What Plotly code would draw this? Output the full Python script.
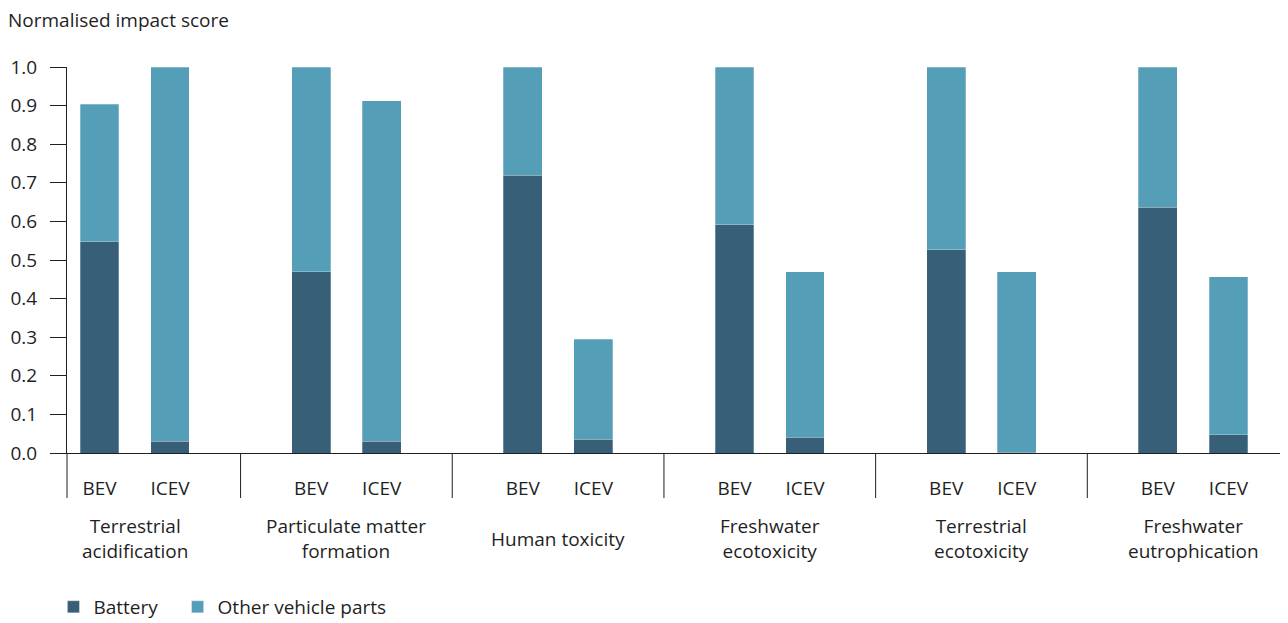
import plotly.graph_objects as go

# Normalised impact scores
groups = [
    "Terrestrial<br>acidification",
    "Particulate matter<br>formation",
    "Human toxicity",
    "Freshwater<br>ecotoxicity",
    "Terrestrial<br>ecotoxicity",
    "Freshwater<br>eutrophication",
]
vehicles = ["BEV", "ICEV"]

battery_bev = [0.547, 0.469, 0.720, 0.591, 0.526, 0.637]
other_bev = [0.357, 0.531, 0.280, 0.409, 0.474, 0.363]
battery_icev = [0.031, 0.031, 0.036, 0.041, 0.002, 0.047]
other_icev = [0.969, 0.881, 0.259, 0.428, 0.467, 0.409]

y_ticks = [0.0, 0.1, 0.2, 0.3, 0.4, 0.5, 0.6, 0.7, 0.8, 0.9, 1.0]

BATTERY = "#385F78"
OTHER = "#559EB7"
TEXT = "#1f1f1f"
FONT = "Open Sans"
FS = 19
W, H = 1280, 615

# each group takes three slots: BEV, ICEV and a gap holding the divider
x_pos, x_lab, bat, oth = [], [], [], []
for i in range(len(groups)):
    x_pos += [3 * i, 3 * i + 1]
    x_lab += vehicles
    bat += [battery_bev[i], battery_icev[i]]
    oth += [other_bev[i], other_icev[i]]

fig = go.Figure()
# non-breaking spaces widen the first legend entry a little
fig.add_trace(go.Bar(x=x_pos, y=bat, name="Battery\u00a0\u00a0\u00a0", width=0.55,
                     marker=dict(color=BATTERY, line=dict(width=0.6, color="rgba(255,255,255,0.45)"))))
fig.add_trace(go.Bar(x=x_pos, y=oth, name="Other vehicle parts", width=0.55,
                     marker=dict(color=OTHER, line=dict(width=0.6, color="rgba(255,255,255,0.45)"))))

div_depth = -0.1166
shapes = [dict(type="line", xref="x", yref="paper", x0=3 * i + 2, x1=3 * i + 2,
               y0=0, y1=div_depth, line=dict(color=TEXT, width=1))
          for i in range(len(groups) - 1)]
for xe in [0, 1]:
    shapes.append(dict(type="line", xref="paper", yref="paper", x0=xe, x1=xe,
                       y0=0, y1=div_depth, line=dict(color=TEXT, width=1)))

annotations = [dict(x=3 * i + 0.5, xref="x", y=-0.222, yref="paper", text=g,
                    showarrow=False, yanchor="middle", xanchor="center",
                    font=dict(size=FS, color=TEXT, family=FONT))
               for i, g in enumerate(groups)]

fig.update_layout(
    barmode="stack",
    template="plotly_white",
    width=W,
    height=H,
    paper_bgcolor="white",
    plot_bgcolor="white",
    margin=dict(l=59, r=1, t=59, b=170),
    font=dict(family=FONT, size=FS, color=TEXT),
    title=dict(text="Normalised impact score", x=0, xref="container", xanchor="left",
               y=1 - 12 / H, yref="container", yanchor="middle",
               font=dict(size=FS, color=TEXT, family=FONT)),
    xaxis=dict(range=[-0.46, 16.83], tickvals=x_pos, ticktext=x_lab, showgrid=False,
               zeroline=False, showline=True, linecolor=TEXT, linewidth=1,
               ticks="", ticklabelstandoff=18, automargin=False),
    yaxis=dict(range=[0, 1], tickvals=y_ticks, tickformat=".1f", showgrid=False,
               zeroline=False, showline=True, linecolor=TEXT, linewidth=1,
               ticks="outside", ticklen=16, tickcolor=TEXT, ticklabelstandoff=9,
               automargin=False),
    legend=dict(orientation="h", xref="container", x=0.0355, xanchor="left",
                yref="container", y=1 - 599 / H, yanchor="middle", traceorder="normal",
                font=dict(size=FS, color=TEXT), bgcolor="rgba(0,0,0,0)"),
    shapes=shapes,
    annotations=annotations,
)

fig.write_html("out.html")
